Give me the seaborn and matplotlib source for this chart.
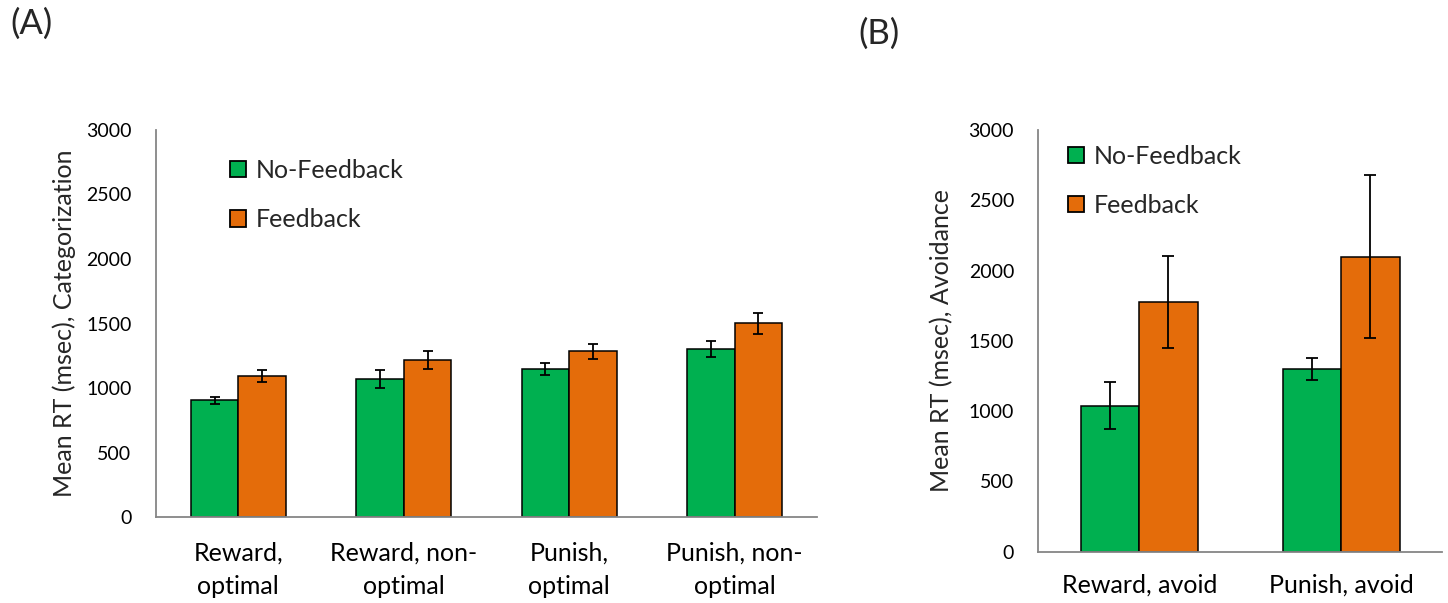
import matplotlib
matplotlib.use("Agg")
import matplotlib.pyplot as plt
from matplotlib.patches import Patch
from matplotlib.ticker import FixedLocator
import seaborn as sns
import pandas as pd

# ---- data ----
groups = ["No-Feedback", "Feedback"]

cat_a = ["Reward,\noptimal", "Reward, non-\noptimal", "Punish,\noptimal", "Punish, non-\noptimal"]
nofb_a = [905, 1070, 1150, 1300]
nofb_a_err = [27, 70, 48, 62]
fb_a = [1095, 1220, 1286, 1503]
fb_a_err = [44, 70, 57, 82]

cat_b = ["Reward, avoid", "Punish, avoid"]
nofb_b = [1040, 1298]
nofb_b_err = [164, 77]
fb_b = [1775, 2100]
fb_b_err = [327, 581]

yticks = [0, 500, 1000, 1500, 2000, 2500, 3000]

GREEN = "#00B050"
ORANGE = "#E46C0A"
GRAY = "#868686"

sns.set_style("white")
plt.rcParams["font.family"] = ["Lato", "DejaVu Sans"]


def make_frame(cats, nofb, fb):
    return pd.DataFrame({
        "condition": cats * 2,
        "group": [groups[0]] * len(cats) + [groups[1]] * len(cats),
        "rt": list(nofb) + list(fb),
    })


def draw_panel(ax, cats, nofb, nofb_err, fb, fb_err, ylabel, legend_xy,
               right_tick, labelpad, capsize, xpad):
    df = make_frame(cats, nofb, fb)
    sns.barplot(data=df, x="condition", y="rt", hue="group", order=cats,
                hue_order=groups, palette=[GREEN, ORANGE], saturation=1,
                width=0.576, gap=0, errorbar=None, edgecolor="black",
                linewidth=1.1, legend=False, ax=ax, zorder=2)
    # error bars placed on the bars drawn by seaborn
    for cont, errs in zip(ax.containers, [nofb_err, fb_err]):
        xs = [b.get_x() + b.get_width() / 2 for b in cont]
        hs = [b.get_height() for b in cont]
        ax.errorbar(xs, hs, yerr=errs, fmt="none", ecolor="black",
                    elinewidth=1.3, capsize=capsize, capthick=1.3, zorder=3)

    n = len(cats)
    ax.set_xlim(-0.5, n - 0.5)
    ax.set_ylim(0, 3000)
    ax.set_yticks(yticks)
    ax.set_yticklabels([str(v) for v in yticks], fontsize=14)
    ax.set_xticks(range(n))
    ax.set_xticklabels(cats, fontsize=18, linespacing=1.55)
    bounds = [i - 0.5 for i in range(n + (1 if right_tick else 0))]
    ax.xaxis.set_minor_locator(FixedLocator(bounds))
    ax.tick_params(axis="x", which="major", length=0, pad=xpad, colors="black")
    ax.tick_params(axis="x", which="minor", length=9, width=1.3,
                   color=GRAY, direction="out")
    ax.tick_params(axis="y", which="major", length=7, width=1.3,
                   color=GRAY, direction="out", pad=10.5, labelcolor="black")
    ax.set_xlabel("")
    ax.set_ylabel(ylabel, fontsize=18, labelpad=labelpad)
    for side in ("top", "right"):
        ax.spines[side].set_visible(False)
    for side in ("left", "bottom"):
        ax.spines[side].set_color(GRAY)
        ax.spines[side].set_linewidth(1.3)
    ax.spines["bottom"].set_zorder(4)

    handles = [Patch(facecolor=GREEN, edgecolor="black", linewidth=1.3),
               Patch(facecolor=ORANGE, edgecolor="black", linewidth=1.3)]
    ax.legend(handles, groups, loc="upper left", bbox_to_anchor=legend_xy,
              frameon=False, fontsize=18, borderaxespad=0, borderpad=0,
              handlelength=0.64, handleheight=0.64, handletextpad=0.38,
              labelspacing=1.05)


fig = plt.figure(figsize=(14.48, 6.03), dpi=100)
ax_a = fig.add_axes([0.1075, 0.1418, 0.4569, 0.6434])
ax_b = fig.add_axes([0.7171, 0.0851, 0.2790, 0.6993])

draw_panel(ax_a, cat_a, nofb_a, nofb_a_err, fb_a, fb_a_err,
           "Mean RT (msec), Categorization", (0.113, 0.9245),
           right_tick=False, labelpad=7, capsize=3.5, xpad=17)
draw_panel(ax_b, cat_b, nofb_b, nofb_b_err, fb_b, fb_b_err,
           "Mean RT (msec), Avoidance", (0.0735, 0.965),
           right_tick=True, labelpad=11, capsize=4, xpad=16)

fig.text(10 / 1448, 1 - 8 / 603, "(A)", fontsize=25, ha="left", va="top")
fig.text(858 / 1448, 1 - 18 / 603, "(B)", fontsize=25, ha="left", va="top")

fig.savefig("out.png", dpi=100)
